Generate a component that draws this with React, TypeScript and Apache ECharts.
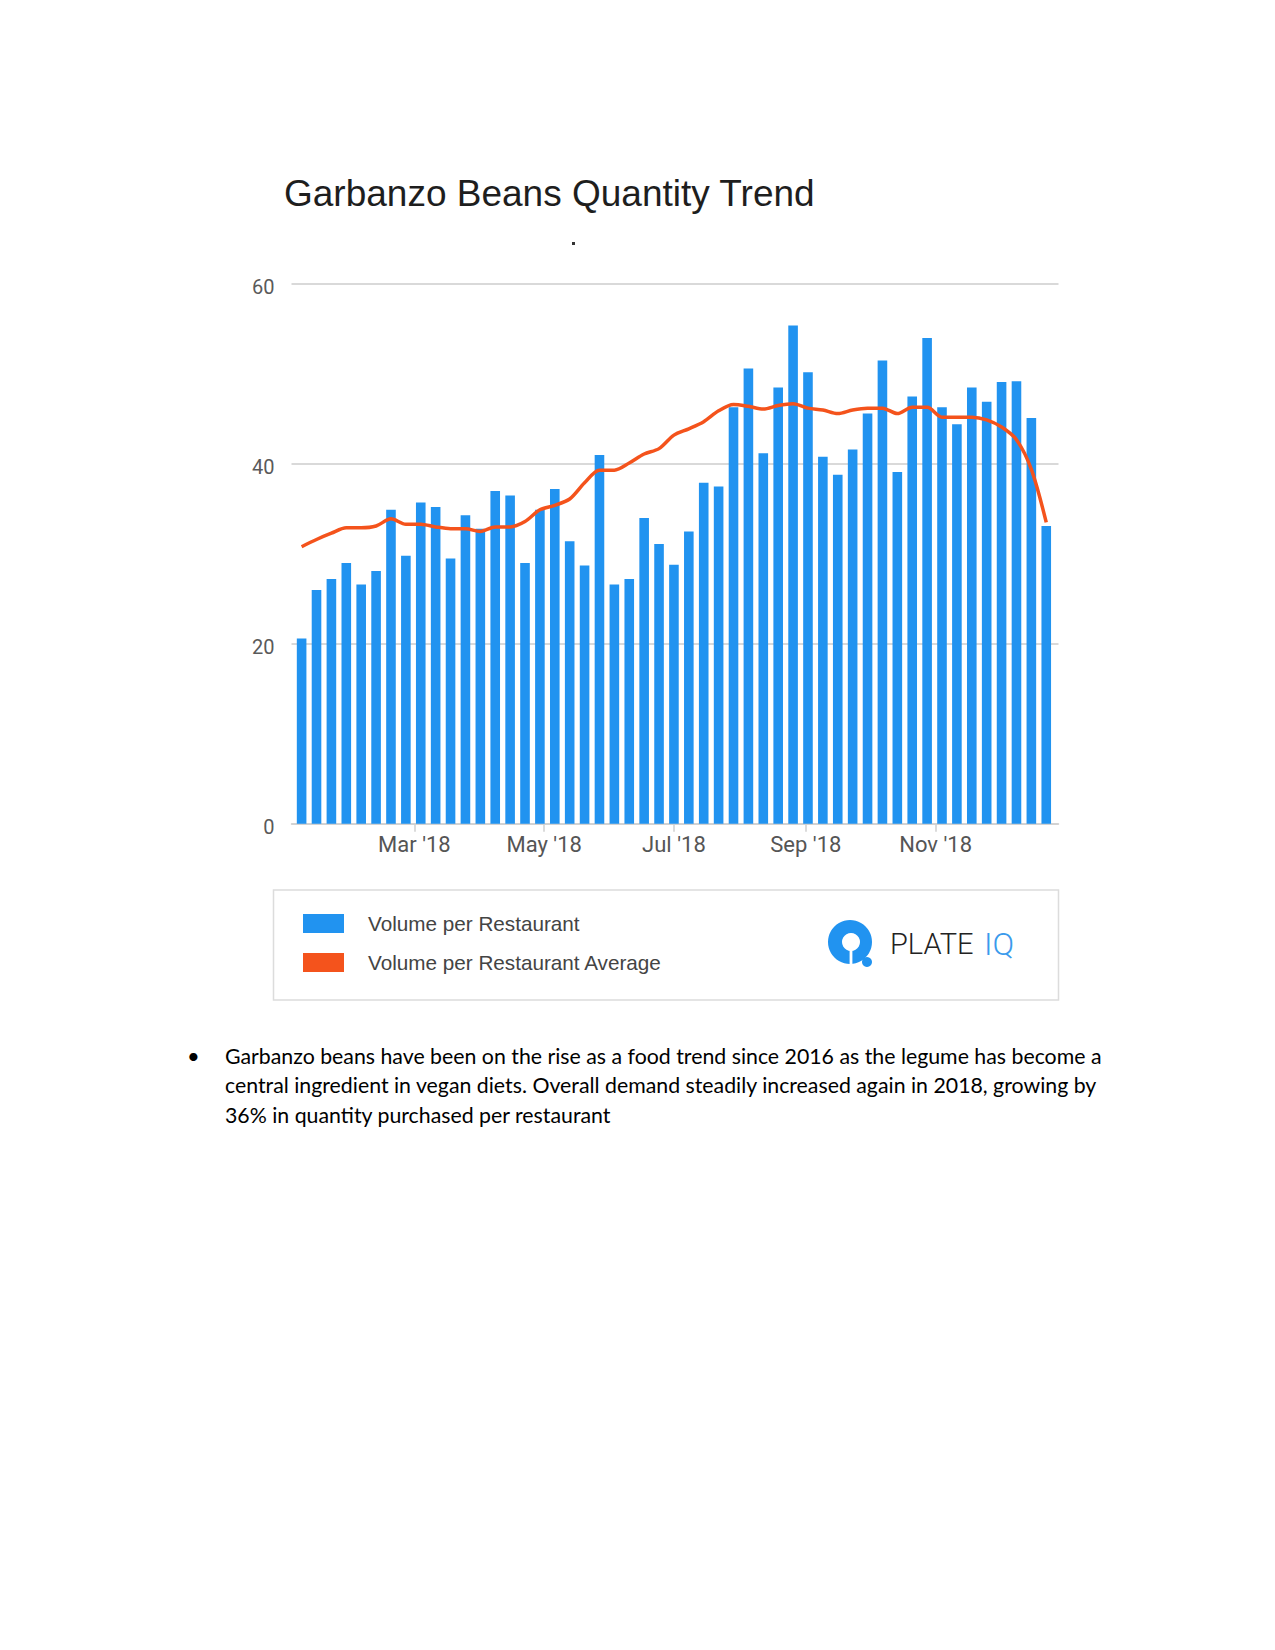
import React, { useEffect, useRef } from 'react';
import * as echarts from 'echarts';

const titleText = 'Garbanzo Beans Quantity Trend';
const seriesNames = ['Volume per Restaurant', 'Volume per Restaurant Average'];
const monthNames = ['Jan', 'Feb', 'Mar', 'Apr', 'May', 'Jun', 'Jul', 'Aug', 'Sep', 'Oct', 'Nov', 'Dec'];

// weekly observations, first week starting Sun 7 Jan 2018
const firstWeek = { year: 2018, month: 0, day: 7 };

const volumePerRestaurant = [
  20.6, 26.0, 27.2, 29.0, 26.6, 28.1, 34.9, 29.8, 35.7, 35.2,
  29.5, 34.3, 32.8, 37.0, 36.5, 29.0, 34.9, 37.2, 31.4, 28.7,
  41.0, 26.6, 27.2, 34.0, 31.1, 28.8, 32.5, 37.9, 37.5, 46.3,
  50.6, 41.2, 48.5, 55.4, 50.2, 40.8, 38.8, 41.6, 45.6, 51.5,
  39.1, 47.5, 54.0, 46.3, 44.4, 48.5, 46.9, 49.1, 49.2, 45.1, 33.1,
];

const volumeAverage = [
  30.8, 31.6, 32.3, 32.9, 32.9, 33.1, 33.9, 33.3, 33.3, 33.0,
  32.8, 32.8, 32.5, 33.0, 33.0, 33.6, 34.9, 35.4, 36.1, 37.9,
  39.3, 39.3, 40.1, 41.1, 41.7, 43.2, 43.9, 44.7, 45.9, 46.6,
  46.4, 46.1, 46.5, 46.7, 46.2, 46.0, 45.6, 46.0, 46.2, 46.2,
  45.6, 46.3, 46.3, 45.2, 45.2, 45.2, 44.9, 44.1, 42.7, 39.4, 33.5,
];

const yMin = 0;
const yMax = 60;
const yStep = 20;

const paragraphLines = [
  'Garbanzo beans have been on the rise as a food trend since 2016 as the legume has become a',
  'central ingredient in vegan diets. Overall demand steadily increased again in 2018, growing by',
  '36% in quantity purchased per restaurant',
];

const logoWord = 'PLATE';
const logoAccent = 'IQ';

const BLUE = '#2193F0';
const ORANGE = '#F4531C';

export default function App() {
  const ref = useRef<HTMLDivElement>(null);

  useEffect(() => {
    if (!ref.current) return;
    const chart = echarts.init(ref.current, undefined, { renderer: 'svg' });

    const weekDates = volumePerRestaurant.map((_, i) =>
      new Date(firstWeek.year, firstWeek.month, firstWeek.day + 7 * i).getTime()
    );
    const xMin = new Date(firstWeek.year, firstWeek.month, firstWeek.day - 3, 12).getTime();
    const xMax = new Date(
      firstWeek.year,
      firstWeek.month,
      firstWeek.day + 7 * (volumePerRestaurant.length - 1) + 3,
      12
    ).getTime();

    const option: any = {
      animation: false,
      backgroundColor: '#ffffff',
      title: {
        text: titleText,
        left: 279,
        top: 170,
        textStyle: {
          fontSize: 37,
          fontWeight: 'normal',
          color: '#1e1e1e',
          fontFamily: 'Liberation Sans',
        },
      },
      legend: {
        orient: 'vertical',
        left: 298,
        top: 908,
        itemWidth: 41,
        itemHeight: 19,
        itemGap: 18,
        selectedMode: false,
        data: [
          { name: seriesNames[0], icon: 'rect' },
          { name: seriesNames[1], icon: 'rect' },
        ],
        textStyle: {
          fontSize: 20.7,
          color: '#444444',
          fontFamily: 'Liberation Sans',
          lineHeight: 19,
          padding: [0, 0, 0, 19],
        },
      },
      grid: {
        left: 291.5,
        right: 1275 - 1058.5,
        top: 284,
        bottom: 1650 - 823.8,
      },
      xAxis: {
        type: 'time',
        min: xMin,
        max: xMax,
        splitNumber: 5,
        axisLine: { show: true, lineStyle: { color: '#cfcfcf', width: 1.5 } },
        axisTick: { show: true, length: 8, lineStyle: { color: '#cfcfcf', width: 1.5 } },
        minorTick: { show: false },
        splitLine: { show: false },
        axisLabel: {
          color: '#555555',
          fontSize: 22,
          fontFamily: 'Roboto',
          margin: 10,
          formatter: (v: number) => {
            const d = new Date(v);
            return `${monthNames[d.getMonth()]} '${String(d.getFullYear()).slice(2)}`;
          },
        },
      },
      yAxis: {
        type: 'value',
        min: yMin,
        max: yMax,
        interval: yStep,
        axisLine: { show: false },
        axisTick: { show: false },
        axisLabel: {
          color: '#5a5a5a',
          fontSize: 20,
          fontFamily: 'Roboto',
          margin: 17,
          verticalAlign: 'top',
          lineHeight: 6,
        },
        splitLine: { lineStyle: { color: '#cccccc', width: 1.5 } },
      },
      series: [
        {
          name: seriesNames[0],
          type: 'bar',
          barWidth: 9.6,
          itemStyle: { color: BLUE },
          data: weekDates.map((t, i) => [t, volumePerRestaurant[i]]),
          z: 2,
        },
        {
          name: seriesNames[1],
          type: 'line',
          smooth: 0.3,
          showSymbol: false,
          symbol: 'none',
          itemStyle: { color: ORANGE },
          lineStyle: { color: ORANGE, width: 3.5 },
          data: weekDates.map((t, i) => [t, volumeAverage[i]]),
          z: 3,
        },
      ],
      graphic: [
        {
          type: 'rect',
          shape: { x: 273.5, y: 890, width: 785, height: 110 },
          style: { fill: 'none', stroke: '#dcdcdc', lineWidth: 1.5 },
          silent: true,
        },
        // PLATE IQ logo mark
        {
          type: 'circle',
          shape: { cx: 850, cy: 942, r: 22 },
          style: { fill: BLUE },
          silent: true,
        },
        {
          type: 'circle',
          shape: { cx: 851, cy: 942, r: 9 },
          style: { fill: '#ffffff' },
          silent: true,
          z: 101,
        },
        {
          type: 'rect',
          shape: { x: 849.6, y: 944, width: 2.8, height: 22 },
          style: { fill: '#ffffff' },
          silent: true,
          z: 101,
        },
        {
          type: 'circle',
          shape: { cx: 867, cy: 962, r: 5 },
          style: { fill: BLUE },
          silent: true,
          z: 102,
        },
        {
          type: 'text',
          x: 890,
          y: 944,
          style: {
            text: logoWord,
            fill: '#222222',
            fontSize: 29,
            fontWeight: 300,
            fontFamily: 'Roboto',
            verticalAlign: 'middle',
            align: 'left',
          },
          silent: true,
        },
        {
          type: 'text',
          x: 984,
          y: 944,
          style: {
            text: logoAccent,
            fill: '#3A9AEC',
            fontSize: 32,
            fontWeight: 300,
            fontFamily: 'Roboto',
            verticalAlign: 'middle',
            align: 'left',
          },
          silent: true,
        },
        // stray mark under the title
        {
          type: 'rect',
          shape: { x: 572, y: 242, width: 3, height: 3 },
          style: { fill: '#333333' },
          silent: true,
        },
        // bullet paragraph
        {
          type: 'text',
          x: 187,
          y: 1055.5,
          style: {
            text: '•',
            fill: '#000000',
            fontSize: 22,
            fontFamily: 'Lato',
            verticalAlign: 'middle',
          },
          silent: true,
        },
        ...paragraphLines.map((line, i) => ({
          type: 'text',
          x: 225,
          y: 1055.5 + i * 29.8,
          style: {
            text: line,
            fill: '#000000',
            fontSize: 21.3,
            fontFamily: 'Lato',
            verticalAlign: 'middle',
            align: 'left',
          },
          silent: true,
        })),
      ],
    };

    chart.setOption(option);
    return () => chart.dispose();
  }, []);

  return (
    <div
      ref={ref}
      style={{ position: 'absolute', left: 0, top: 0, width: 1275, height: 1650 }}
    />
  );
}
